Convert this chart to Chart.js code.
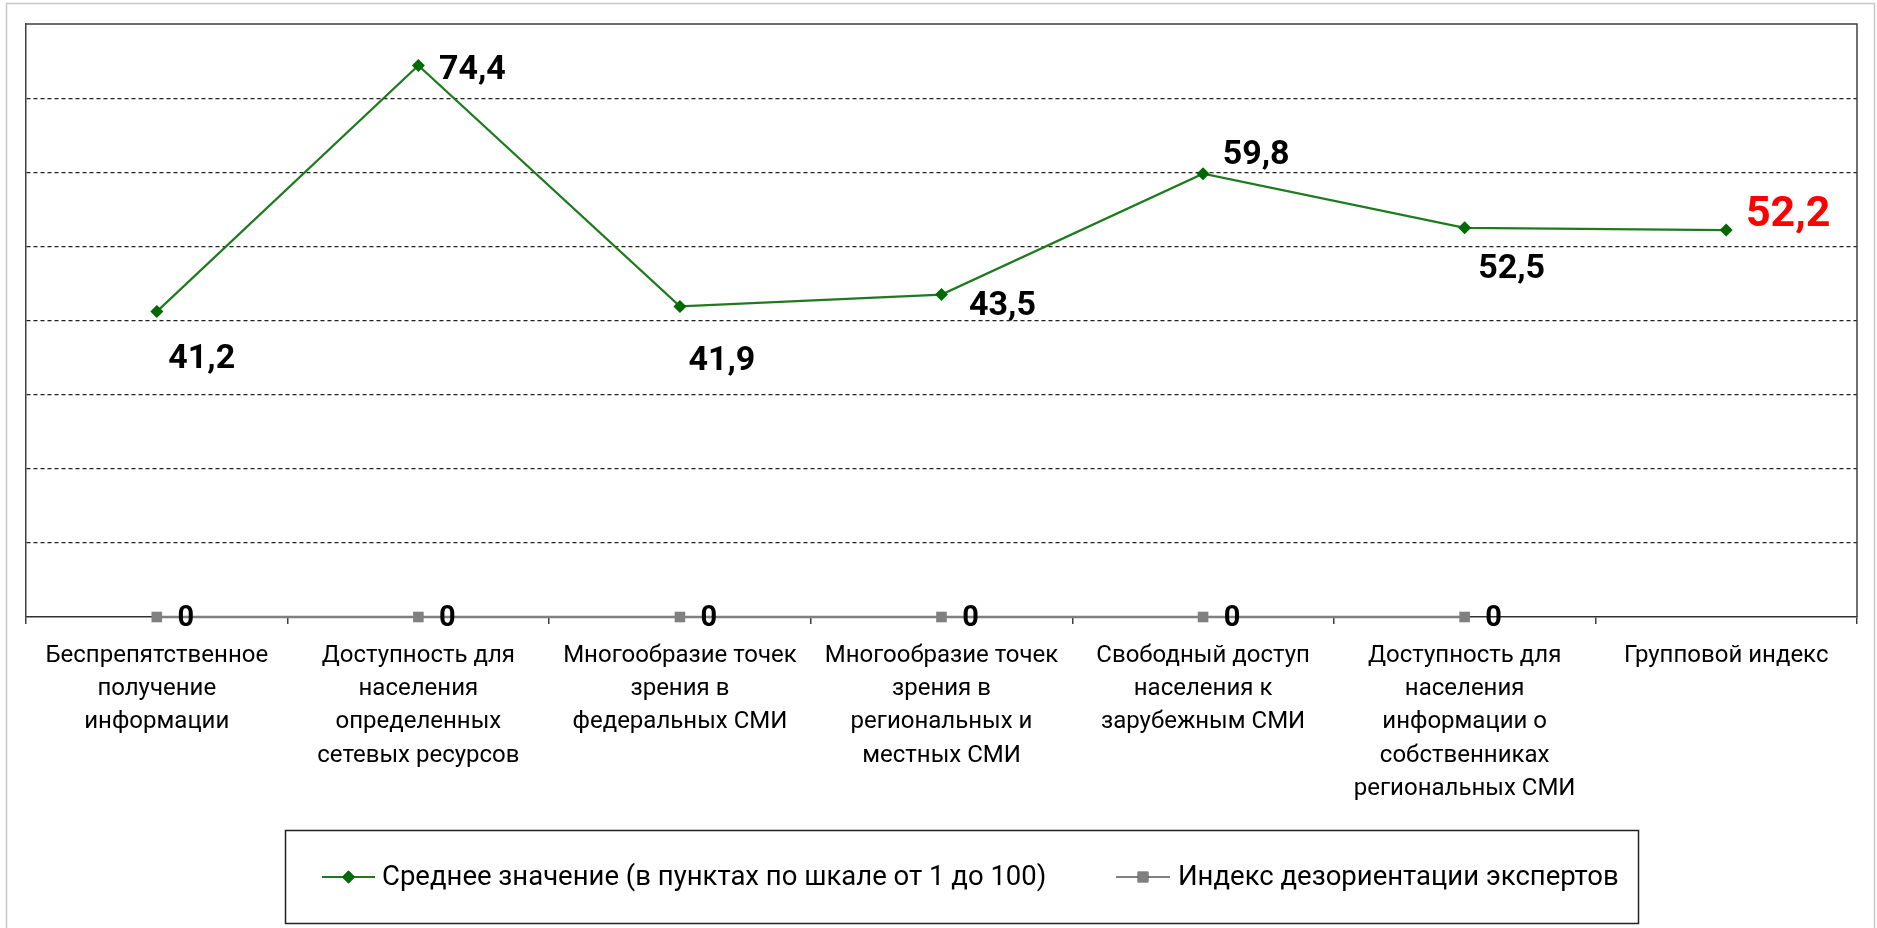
<!DOCTYPE html>
<html><head><meta charset="utf-8">
<script src="https://cdn.jsdelivr.net/npm/chart.js@4.4.1/dist/chart.umd.min.js"></script>
<style>html,body{margin:0;padding:0;background:#fff}#wrap{width:1877px;height:928px}</style>
</head><body><div id="wrap"><canvas id="c" width="1877" height="928"></canvas></div>
<script>
// ---- data ----
const categories = [
  ['Беспрепятственное','получение','информации'],
  ['Доступность для','населения','определенных','сетевых ресурсов'],
  ['Многообразие точек','зрения в','федеральных СМИ'],
  ['Многообразие точек','зрения в','региональных и','местных СМИ'],
  ['Свободный доступ','населения к','зарубежным СМИ'],
  ['Доступность для','населения','информации о','собственниках','региональных СМИ'],
  ['Групповой индекс']
];
const seriesNames = ['Среднее значение (в пунктах по шкале от 1 до 100)', 'Индекс дезориентации экспертов'];
const averageValues = [41.2, 74.4, 41.9, 43.5, 59.8, 52.5, 52.2];
const disorientationValues = [0, 0, 0, 0, 0, 0, null];
const yMin = 0, yMax = 80, yStep = 10;

// ---- styling ----
const GREEN_LINE = '#1f7a1f', GREEN_PT = '#006a00', GRAY = '#808080';
const FONT = 'Roboto, "Liberation Sans", Arial, sans-serif';
const avgLabelOffsets = [[45,46],[54,3],[42,53],[61,10],[53,-20],[47,40],[62,-17]];
const fmt = v => v.toFixed(1).replace('.', ',');

const framePlugin = {
  id: 'frame',
  beforeDraw(chart) {
    const ctx = chart.ctx;
    ctx.save();
    ctx.fillStyle = '#fff';
    ctx.fillRect(0, 0, chart.width, chart.height);
    ctx.strokeStyle = '#c8c8c8';
    ctx.lineWidth = 1.5;
    ctx.strokeRect(6.5, 3.5, 1868, 930);
    ctx.restore();
  },
  beforeDatasetsDraw(chart) {
    const a = chart.chartArea, ctx = chart.ctx;
    ctx.save();
    ctx.strokeStyle = '#404040';
    ctx.lineWidth = 1.5;
    ctx.beginPath();
    ctx.moveTo(a.left, a.top); ctx.lineTo(a.right, a.top); ctx.lineTo(a.right, a.bottom);
    ctx.stroke();
    ctx.restore();
  },
  afterDatasetsDraw(chart) {
    const ctx = chart.ctx;
    ctx.save();
    ctx.textAlign = 'center';
    ctx.textBaseline = 'middle';
    const m0 = chart.getDatasetMeta(0);
    m0.data.forEach((pt, i) => {
      const v = averageValues[i];
      if (v == null) return;
      const last = i === averageValues.length - 1;
      ctx.font = 'bold ' + (last ? 43 : 34) + 'px ' + FONT;
      ctx.fillStyle = last ? '#ff0000' : '#000';
      ctx.fillText(fmt(v), pt.x + avgLabelOffsets[i][0], pt.y + avgLabelOffsets[i][1] + 2);
    });
    const m1 = chart.getDatasetMeta(1);
    ctx.font = 'bold 29px ' + FONT;
    ctx.fillStyle = '#000';
    m1.data.forEach((pt, i) => {
      const v = disorientationValues[i];
      if (v == null) return;
      ctx.fillText(String(v), pt.x + 29, pt.y + 2);
    });
    ctx.restore();
  },
  afterDraw(chart) {
    const ctx = chart.ctx;
    ctx.save();
    // legend box
    ctx.strokeStyle = '#222';
    ctx.lineWidth = 1.5;
    ctx.strokeRect(285.5, 830.5, 1353, 93);
    const y = 877;
    const ds = chart.data.datasets;
    const items = [{x0: 322, x1: 375, tx: 382}, {x0: 1116, x1: 1170, tx: 1178}];
    items.forEach((it, k) => {
      const d = ds[k];
      ctx.strokeStyle = d.borderColor;
      ctx.lineWidth = 2;
      ctx.beginPath(); ctx.moveTo(it.x0, y); ctx.lineTo(it.x1, y); ctx.stroke();
      Chart.helpers.drawPoint(ctx, {pointStyle: d.pointStyle, radius: d.pointRadius, borderWidth: 0, rotation: 0}, (it.x0 + it.x1) / 2, y);
      ctx.fillStyle = d.pointBackgroundColor;
      ctx.fill();
      ctx.fillStyle = '#000';
      ctx.font = '27.5px ' + FONT;
      ctx.textAlign = 'left';
      ctx.textBaseline = 'middle';
      ctx.fillText(d.label, it.tx, y + 1);
    });
    ctx.restore();
  }
};

new Chart(document.getElementById('c'), {
  type: 'line',
  data: {
    labels: categories,
    datasets: [
      {
        label: seriesNames[0], data: averageValues,
        borderColor: GREEN_LINE, borderWidth: 2.2,
        pointStyle: 'rectRot', pointRadius: 6.5, pointBackgroundColor: GREEN_PT, pointBorderColor: GREEN_PT, pointBorderWidth: 0,
        tension: 0, clip: false
      },
      {
        label: seriesNames[1], data: disorientationValues,
        borderColor: GRAY, borderWidth: 2.5,
        pointStyle: 'rect', pointRadius: 7.5, pointBackgroundColor: GRAY, pointBorderColor: GRAY, pointBorderWidth: 0,
        tension: 0, clip: false, spanGaps: false
      }
    ]
  },
  options: {
    responsive: false,
    animation: false,
    devicePixelRatio: 1,
    layout: {padding: {left: 26, right: 20, top: 24, bottom: 0}},
    plugins: {legend: {display: false}, tooltip: {enabled: false}},
    scales: {
      x: {
        type: 'category', offset: true,
        grid: {display: true, drawOnChartArea: false, drawTicks: true, tickLength: 7, offset: true, color: '#404040', lineWidth: 1.5},
        border: {display: true, color: '#303030', width: 1.5},
        ticks: {font: {family: FONT, size: 24, lineHeight: 1.39}, color: '#000', padding: 15, maxRotation: 0, autoSkip: false},
        afterFit(s) { s.height = 311; }
      },
      y: {
        min: yMin, max: yMax,
        ticks: {display: false, stepSize: yStep},
        grid: {drawTicks: false, color: c => (c.tick.value === yMin || c.tick.value === yMax) ? 'rgba(0,0,0,0)' : '#222', lineWidth: 1.2},
        border: {display: true, color: '#404040', width: 1.5, dash: [4, 3]},
        afterFit(s) { s.width = 0; }
      }
    }
  },
  plugins: [framePlugin]
});
</script>
</body></html>
